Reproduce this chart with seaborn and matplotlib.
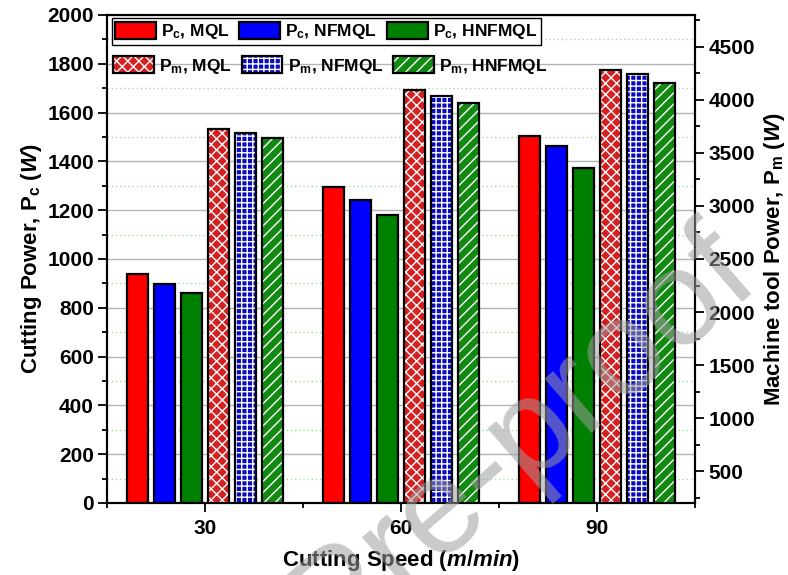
import matplotlib
matplotlib.use("Agg")
import matplotlib.pyplot as plt
from matplotlib.patches import Patch, Rectangle
from matplotlib.legend_handler import HandlerTuple
from matplotlib.ticker import MultipleLocator, FixedLocator
import pandas as pd
import seaborn as sns

# ---- data -------------------------------------------------------------
speeds = [30, 60, 90]                      # cutting speed, m/min
methods = ["MQL", "NFMQL", "HNFMQL"]

pc_mql = [940, 1295, 1505]                 # cutting power Pc (W)
pc_nfmql = [898, 1242, 1462]
pc_hnfmql = [860, 1182, 1375]

pm_mql = [3730, 4090, 4285]                # machine tool power Pm (W)
pm_nfmql = [3685, 4040, 4240]
pm_hnfmql = [3645, 3975, 4155]

pc_labels = [r"P$_{\rm c}$, " + m for m in methods]
pm_labels = [r"P$_{\rm m}$, " + m for m in methods]
all_labels = pc_labels + pm_labels

pc_colors = ["#ff0000", "#0000ff", "#008000"]
pm_colors = ["#d42020", "#0a0ac0", "#128a12"]
pm_hatches = ["xxx", "+++", "///"]

pc_df = pd.DataFrame({
    "speed": speeds * 3,
    "power": pc_mql + pc_nfmql + pc_hnfmql,
    "series": [l for l in pc_labels for _ in speeds],
})
pm_df = pd.DataFrame({
    "speed": speeds * 3,
    "power": pm_mql + pm_nfmql + pm_hnfmql,
    "series": [l for l in pm_labels for _ in speeds],
})
palette = dict(zip(all_labels, pc_colors + pm_colors))

# ---- style ------------------------------------------------------------
sns.set_style("ticks")
plt.rcParams.update({
    "font.family": ["Liberation Sans", "DejaVu Sans"],
    "font.weight": "bold",
    "mathtext.fontset": "custom",
    "mathtext.rm": "Liberation Sans:bold",
    "mathtext.it": "Liberation Sans:italic:bold",
    "mathtext.bf": "Liberation Sans:bold",
    "hatch.linewidth": 1.0,
    "text.color": "black",
    "axes.labelcolor": "black",
    "axes.edgecolor": "black",
    "axes.linewidth": 1.5,
    "xtick.color": "black",
    "ytick.color": "black",
    "xtick.labelcolor": "black",
    "ytick.labelcolor": "black",
})

fig = plt.figure(figsize=(7.88, 5.75), dpi=100)
ax = fig.add_axes([107 / 788, 1 - 503 / 575, 588 / 788, 488 / 575])
ax2 = ax.twinx()

bar_kw = dict(x="speed", y="power", hue="series", hue_order=all_labels,
              palette=palette, saturation=1, native_scale=True, width=0.824,
              gap=0.2, errorbar=None, edgecolor="black", linewidth=1.6,
              legend=False)

sns.barplot(data=pc_df, ax=ax, **bar_kw)
sns.barplot(data=pm_df, ax=ax2, **bar_kw)

# white hatching inside the Pm bars, black outline on top
hatch_of = {matplotlib.colors.to_hex(c): h for c, h in zip(pm_colors, pm_hatches)}
for p in list(ax2.patches):
    key = matplotlib.colors.to_hex(p.get_facecolor())
    if key in hatch_of and p.get_height() > 0:
        p.set_edgecolor("white")
        p.set_linewidth(0)
        p.set_hatch(hatch_of[key])
        ax2.add_patch(Rectangle(p.get_xy(), p.get_width(), p.get_height(),
                                fill=False, edgecolor="black", linewidth=1.6,
                                zorder=p.get_zorder() + 0.1))

# ---- axes -------------------------------------------------------------
ax.set_xlim(15, 105)
ax.xaxis.set_major_locator(FixedLocator(speeds))
ax.xaxis.set_minor_locator(FixedLocator([15, 45, 75, 105]))
ax.set_ylim(0, 2000)
ax.yaxis.set_major_locator(MultipleLocator(200))
ax.yaxis.set_minor_locator(MultipleLocator(100))
ax2.set_ylim(200, 4800)
ax2.yaxis.set_major_locator(MultipleLocator(500))
ax2.yaxis.set_minor_locator(MultipleLocator(250))

ax.set_axisbelow(True)
ax.yaxis.grid(True, which="major", color="#b4b4b4", linewidth=1.0, linestyle="-")
ax.yaxis.grid(True, which="minor", color="#9ee09e", linewidth=1.0, linestyle=(0, (1, 2)))
ax.xaxis.grid(False)

for a in (ax, ax2):
    a.tick_params(which="major", direction="out", length=6.5, width=1.3,
                  labelsize=15, pad=3, colors="black")
    a.tick_params(which="minor", direction="out", length=3.5, width=1.3,
                  colors="black")
    for s in a.spines.values():
        s.set_visible(True)
        s.set_linewidth(1.5)
        s.set_color("black")
ax2.tick_params(axis="x", which="both", top=False, labeltop=False)
ax.tick_params(axis="x", which="both", top=False)
ax.tick_params(axis="x", which="major", pad=5)

for lab in ax.get_xticklabels() + ax.get_yticklabels() + ax2.get_yticklabels():
    lab.set_fontweight("bold")
    lab.set_color("black")

ax.set_xlabel(r"Cutting Speed ($\mathit{m/min}$)", fontsize=16,
              fontweight="bold", labelpad=7, color="black")
ax.set_ylabel(r"Cutting Power, P$_{\rm c}$ ($\mathit{W}$)", fontsize=16,
              fontweight="bold", labelpad=2, color="black")
ax2.set_ylabel(r"Machine tool Power, P$_{\rm m}$ ($\mathit{W}$)", fontsize=16,
               fontweight="bold", rotation=90, labelpad=5, color="black")

# ---- legends ----------------------------------------------------------
leg_kw = dict(ncol=3, loc="upper left", borderaxespad=0, borderpad=0.2,
              handlelength=2.35, handleheight=1.15, handletextpad=0.3,
              columnspacing=0.55, fancybox=False, edgecolor="black",
              prop={"weight": "bold", "size": 12.5})

pc_handles = [Patch(facecolor=c, edgecolor="black", linewidth=1.6) for c in pc_colors]
leg1 = ax2.legend(pc_handles, pc_labels, bbox_to_anchor=(0.008, 0.993),
                  framealpha=1, facecolor="white", **leg_kw)
leg1.get_frame().set_linewidth(1.0)
ax2.add_artist(leg1)

pm_handles = [(Patch(facecolor=c, edgecolor="white", linewidth=0, hatch=h),
               Patch(fill=False, edgecolor="black", linewidth=1.6))
              for c, h in zip(pm_colors, pm_hatches)]
leg2 = ax2.legend(pm_handles, pm_labels, bbox_to_anchor=(0.005, 0.923),
                  handler_map={tuple: HandlerTuple(ndivide=1, pad=0)},
                  framealpha=0, **leg_kw)
leg2.get_frame().set_linewidth(1.0)
for leg in (leg1, leg2):
    for t in leg.get_texts():
        t.set_color("black")

# ---- watermark --------------------------------------------------------
fig.text(762 / 788, 1 - 285 / 575, "Journal Pre-proof", fontsize=98,
         fontweight="normal", color=(0.62, 0.62, 0.62), alpha=0.55,
         rotation=41, rotation_mode="anchor", ha="right", va="baseline",
         zorder=10)

fig.savefig("out.png", dpi=100)
